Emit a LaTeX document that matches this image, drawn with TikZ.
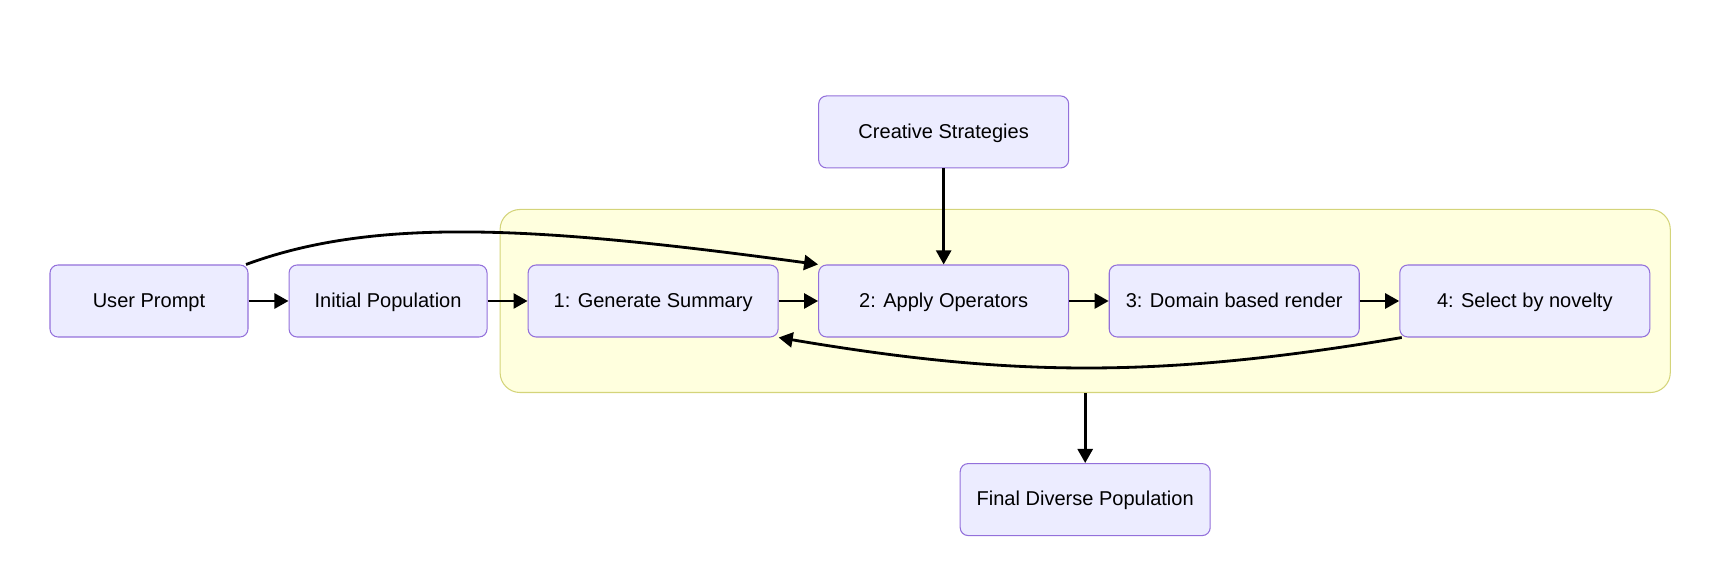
\documentclass[tikz,border=0pt]{standalone}
\usepackage{fontspec}
\setmainfont{Liberation Sans}
\usetikzlibrary{positioning,arrows.meta,fit,backgrounds}

\definecolor{nodefill}{HTML}{ECECFF}
\definecolor{nodeline}{HTML}{9370DB}
\definecolor{groupfill}{HTML}{FFFFDE}
\definecolor{groupline}{HTML}{D4D47A}

\begin{document}
\begin{tikzpicture}[
node distance=0.8cm,
font=\fontsize{11.4}{13.5}\selectfont,
block/.style={
draw=nodeline,
line width=0.6pt,
rounded corners=0.16cm,
minimum width=5.0cm,
minimum height=1.44cm,
text height=0.95em,
text depth=0.23em,
align=center,
fill=nodefill
},
small/.style={
block,
minimum width=3.96cm
},
arrow/.style={
-{Triangle[length=8pt,width=8.5pt]},
line width=1.6pt
}
]

\useasboundingbox (0,0) rectangle (34.4,11.52);

% Input
\node[small] (prompt) at (2.98,5.5) {User Prompt};
\node[small,right=of prompt] (init) {Initial Population};

% Loop
\node[block,right=of init] (summary) {1: Generate Summary};
\node[block,right=0.79cm of summary] (operators) {2: Apply Operators};
\node[block,right=0.79cm of operators] (render) {3: Domain based render};
\node[block,right=0.79cm of render] (select) {4: Select by novelty};

% Strategies
\node[block,above=1.92cm of operators] (strategies) {Creative Strategies};

% grupo
\coordinate (loopa) at ([xshift=-0.075cm]summary.south west);
\coordinate (loopb) at ([xshift=-0.075cm]select.north east);
\begin{scope}[on background layer]
\node[
draw=groupline,
line width=0.6pt,
fill=groupfill,
rounded corners=0.4cm,
fit=(loopa)(loopb),
inner xsep=0.475cm,
inner ysep=1.1cm
] (loop) {};
\end{scope}

% Output
\node[block,below=1.4cm of loop] (final) {Final Diverse Population};

% arrows
\draw[arrow] (prompt)--(init);
\draw[arrow] (init)--(summary);
\draw[arrow] (summary)--(operators);
\draw[arrow] (operators)--(render);
\draw[arrow] (render)--(select);
\draw[arrow] (strategies)--(operators);
\draw[arrow] (loop)--(final);
\draw[arrow] ([xshift=-0.05cm]prompt.north east) .. controls +(2.6,0.96) and +(-5.6,0.76) .. (operators.north west);
\draw[arrow] ([xshift=0.05cm]select.south west) .. controls +(-5,-0.85) and +(4.5,-0.76) .. (summary.south east);

\end{tikzpicture}
\end{document}
